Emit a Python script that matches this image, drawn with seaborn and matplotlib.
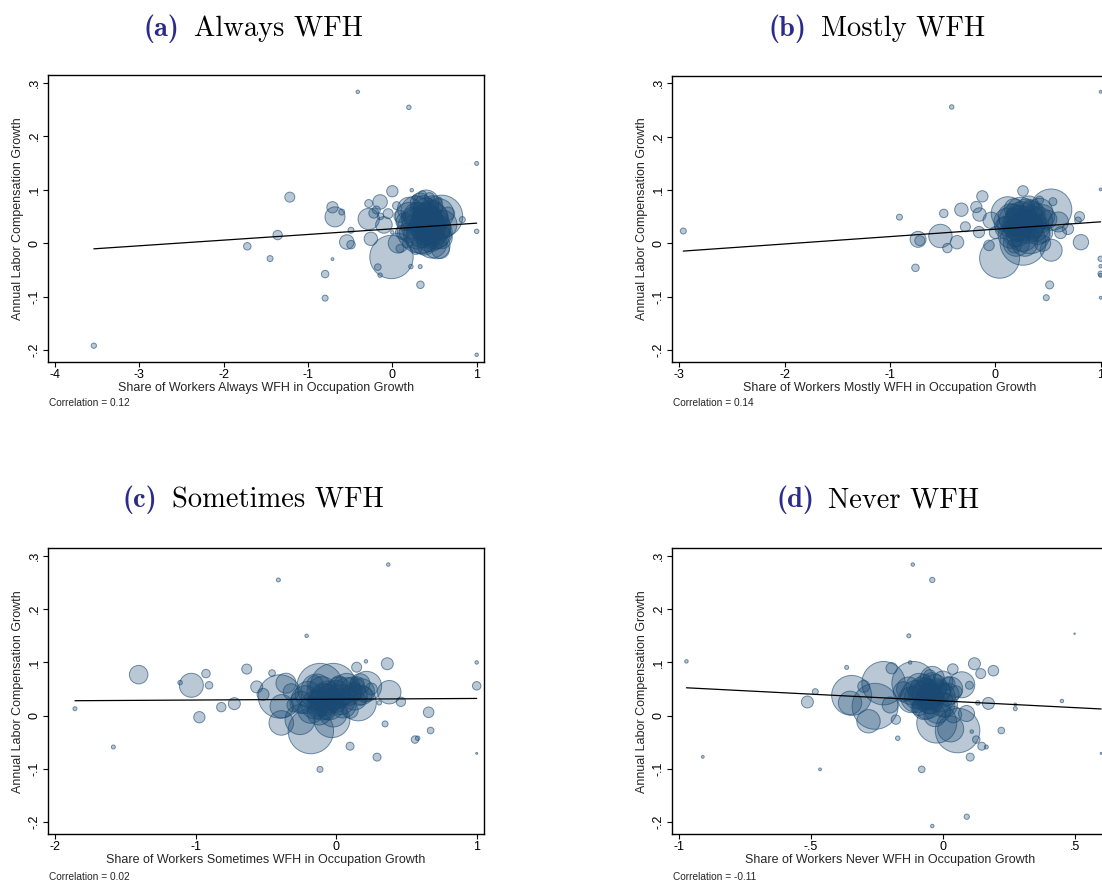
import numpy as np
import pandas as pd
import matplotlib
matplotlib.use("Agg")
import matplotlib.pyplot as plt
import seaborn as sns

sns.set_theme(style="ticks")
plt.rcParams["font.family"] = ["Liberation Sans", "DejaVu Sans"]
plt.rcParams["axes.unicode_minus"] = False

# ---------------- data ----------------
# (a) Always WFH
a_x = [-0.41, 0.196, 1.0, 1.0, 1.0, -3.54, -1.216, -1.36, -1.72, -1.45, -0.797, -0.797, -0.71,
       -0.71, -0.68, -0.60, -0.54, -0.49, -0.49, -0.172, -0.145, 0.333, 0.22, 0.0, 0.23, 0.83,
       -0.01, 0.583, 0.33, -0.28, -0.145, -0.255, -0.28, -0.22, -0.10, 0.07, 0.09, 0.20, 0.45,
       0.41, 0.49, 0.53, 0.57, 0.37, 0.27, 0.29, 0.66, 0.55, 0.09, 0.0, -0.14, -0.19,
       0.38, 0.42, 0.35, 0.45, 0.30, 0.48, 0.40, 0.15, 0.12, 0.50, 0.25, 0.60, 0.44, 0.36,
       -0.05, 0.05, 0.28, 0.18, 0.33,
       0.30, 0.35, 0.40, 0.45, 0.50, 0.55, 0.25, 0.42, 0.38, 0.48, 0.33, 0.58, 0.20, 0.45,
       0.20, 0.28, 0.35, 0.55, 0.60, 0.47, 0.40, 0.30, 0.52, 0.43]
a_y = [0.283, 0.254, 0.149, 0.022, -0.209, -0.192, 0.086, 0.015, -0.006, -0.029, -0.058, -0.103, -0.030,
       0.067, 0.049, 0.058, 0.002, -0.003, 0.024, -0.045, -0.060, -0.078, -0.044, 0.097, 0.099, 0.044,
       -0.026, 0.050, 0.024, 0.045, 0.077, 0.008, 0.074, 0.056, 0.034, 0.000, 0.050, 0.064, 0.030,
       0.047, 0.019, -0.005, -0.012, 0.070, 0.085, 0.064, 0.055, 0.080, -0.010, 0.020, 0.050, 0.062,
       0.035, 0.025, 0.045, 0.055, 0.030, 0.040, 0.015, 0.040, 0.020, 0.065, 0.045, 0.020, 0.085, 0.090,
       0.055, 0.070, -0.010, 0.000, -0.044,
       0.050, 0.020, 0.060, 0.010, 0.050, 0.030, 0.030, 0.040, 0.000, 0.070, 0.075, 0.010, 0.020, 0.045,
       0.050, 0.060, 0.010, 0.055, 0.035, 0.000, 0.075, 0.015, 0.020, 0.030]
a_w = [3, 5, 4, 5, 3, 7, 25, 22, 14, 9, 14, 9, 2,
       32, 100, 9, 53, 18, 9, 11, 5, 14, 5, 32, 3, 9,
       471, 450, 529, 114, 53, 45, 16, 25, 69, 100, 36, 137, 400,
       225, 279, 169, 81, 100, 7, 45, 45, 11, 16, 3, 11, 16,
       144, 196, 100, 81, 81, 121, 64, 81, 49, 64, 144, 49, 25, 16,
       25, 16, 36, 25, 4,
       196, 225, 169, 196, 169, 144, 144, 256, 144, 100, 100, 121, 100, 324,
       196, 225, 256, 225, 196, 225, 169, 196, 256, 289]

# (b) Mostly WFH
b_x = [-2.962, -0.414, 1.0, 1.0, 1.0, 1.0, 1.0, 1.0, 1.0, -0.910, -0.758, -0.733, -0.717,
       -0.521, -0.489, -0.455, -0.363, -0.322, -0.284, -0.180, -0.123, -0.155, -0.150, -0.060,
       0.041, 0.263, 0.516, 0.484, 0.813, 0.800, 0.785, 0.690, 0.530, 0.263, 0.330, 0.230,
       0.120, -0.038, 0.420, 0.530, 0.420, 0.547,
       0.25, 0.22, 0.28, 0.20, 0.30, 0.35, 0.15, 0.45, 0.50, 0.38, 0.60, 0.08, 0.00, 0.45,
       0.32, 0.62, 0.18,
       0.15, 0.20, 0.25, 0.30, 0.35, 0.28, 0.22, 0.40, 0.10, 0.32, 0.18, 0.45,
       0.12, 0.18, 0.24, 0.33, 0.38, 0.26, 0.20, 0.42, 0.30, 0.15]
b_y = [0.023, 0.2555, 0.284, 0.101, -0.029, -0.043, -0.057, -0.060, -0.102, 0.049, -0.046, 0.0074, 0.005,
       0.0137, 0.056, -0.009, 0.002, 0.063, 0.031, 0.068, 0.088, 0.021, 0.054, -0.004,
       -0.028, 0.098, -0.078, -0.102, 0.002, 0.050, 0.043, 0.027, 0.063, 0.002, 0.018, 0.043,
       0.056, 0.043, 0.043, -0.013, 0.081, 0.078,
       0.035, 0.050, 0.025, 0.020, 0.045, 0.030, 0.030, 0.020, 0.045, 0.060, 0.040, 0.035, 0.020, 0.000,
       0.070, 0.020, -0.005,
       0.050, 0.020, 0.050, 0.030, 0.055, 0.000, 0.035, 0.020, 0.030, 0.070, 0.065, 0.050,
       0.040, 0.045, 0.060, 0.040, 0.030, 0.015, 0.000, 0.060, 0.055, 0.015]
b_w = [9, 5, 2, 2, 7, 3, 7, 4, 2, 9, 14, 64, 25,
       137, 18, 22, 45, 45, 25, 32, 32, 32, 45, 28,
       400, 28, 16, 9, 59, 25, 11, 32, 428, 529, 400, 225,
       279, 69, 169, 121, 16, 16,
       144, 100, 121, 81, 81, 144, 64, 100, 81, 64, 100, 49, 36, 64,
       36, 36, 49,
       169, 196, 225, 256, 169, 169, 256, 144, 121, 100, 100, 144,
       196, 225, 196, 256, 196, 256, 169, 169, 225, 169]

# (c) Sometimes WFH
c_x = [-1.858, -1.585, -1.405, -1.11, -1.03, -0.973, -0.926, -0.904, -0.817, -0.724, -0.636, -0.411,
       -0.456, -0.565, -0.52, -0.40, -0.357, -0.387, -0.39, -0.257, -0.18, -0.21, -0.115, -0.115,
       -0.02, -0.03, 0.075, 0.158, 0.217, 0.146, 0.212, 0.364, 0.371, 0.378, 0.307, 0.348, 0.099,
       0.291, 0.461, 0.561, 0.58, 0.658, 0.672, 1.0, 1.0, 1.0,
       -0.10, -0.05, -0.12, 0.00, 0.05, -0.08, 0.12, 0.15, 0.20, -0.15, -0.30, -0.32, 0.25, 0.10,
       -0.06, 0.02, 0.17,
       -0.20, -0.15, -0.10, -0.05, 0.00, 0.05, -0.12, -0.08, 0.02, 0.12, 0.17, -0.25,
       -0.22, -0.14, -0.06, 0.03, 0.08, -0.18, -0.02, 0.13, -0.10, 0.18]
c_y = [0.013, -0.059, 0.077, 0.062, 0.057, -0.003, 0.079, 0.057, 0.016, 0.0225, 0.0875, 0.255,
       0.080, 0.054, 0.040, 0.036, 0.061, 0.0175, -0.0137, -0.0075, -0.029, 0.150, -0.101, 0.055,
       0.055, -0.0075, 0.055, 0.024, 0.055, 0.091, 0.102, 0.0975, 0.284, 0.044, 0.024, -0.0156, -0.0575,
       -0.078, 0.026, -0.045, -0.0425, 0.0063, -0.028, 0.100, 0.056, -0.071,
       0.030, 0.040, 0.015, 0.025, 0.035, 0.045, 0.045, 0.060, 0.040, 0.060, 0.020, 0.045, 0.050, 0.010,
       0.005, 0.060, 0.030,
       0.040, 0.020, 0.045, 0.020, 0.040, 0.020, 0.005, 0.030, 0.050, 0.050, 0.060, 0.025,
       0.030, 0.050, 0.035, 0.030, 0.045, 0.010, 0.005, 0.035, 0.020, 0.045]
c_w = [4, 4, 86, 5, 144, 32, 18, 14, 22, 36, 25, 4,
       11, 36, 36, 471, 100, 137, 151, 225, 515, 3, 9, 529,
       529, 324, 169, 324, 225, 25, 3, 36, 3, 137, 5, 9, 16,
       16, 22, 14, 5, 28, 11, 3, 18, 1,
       144, 100, 81, 100, 81, 64, 81, 49, 64, 64, 49, 64, 36, 64,
       49, 64, 36,
       169, 196, 225, 225, 196, 169, 144, 256, 144, 144, 100, 121,
       196, 225, 256, 225, 196, 169, 196, 169, 225, 169]

# (d) Never WFH
d_x = [-0.973, -0.911, -0.466, -0.365, -0.484, -0.514, -0.346, -0.352, -0.225, -0.257, -0.282, -0.194,
       -0.171, -0.178, -0.129, -0.114, -0.124, -0.04, -0.04, 0.091, -0.08, -0.111, -0.10, -0.023,
       0.056, 0.03, 0.04, 0.09, 0.072, 0.038, 0.12, 0.144, 0.192, 0.101, 0.173, 0.133, 0.222,
       0.11, 0.127, 0.148, 0.165, 0.104, 0.275, 0.275, 0.452, 0.50, 0.601, -0.048, -0.03,
       -0.04, -0.06, -0.02, 0.00, -0.08, -0.05, 0.01, -0.07, 0.02, -0.09, -0.15, -0.20, 0.05,
       -0.30, -0.05,
       -0.08, -0.05, -0.02, 0.00, -0.07, -0.04, 0.02, -0.10, -0.03, 0.00, -0.06,
       -0.09, -0.06, -0.01, 0.03, -0.12, -0.04, -0.02, 0.01, -0.07, -0.13]
d_y = [0.102, -0.0775, -0.101, 0.0906, 0.045, 0.0256, 0.038, 0.024, 0.061, 0.0175, -0.0106, 0.089,
       -0.0425, -0.0075, 0.150, 0.284, 0.100, 0.255, -0.2075, -0.190, -0.101, 0.061, 0.036, -0.014,
       -0.028, -0.025, 0.002, 0.004, 0.058, 0.0875, 0.0975, 0.079, 0.0844, 0.057, 0.023, 0.024, -0.028,
       -0.030, -0.045, -0.0575, -0.059, -0.078, 0.013, 0.021, 0.0275, 0.154, -0.071, 0.036, 0.055,
       0.040, 0.030, 0.050, 0.045, 0.050, 0.020, 0.030, 0.065, 0.060, 0.015, 0.045, 0.020, 0.045,
       0.055, 0.075,
       0.050, 0.030, 0.045, 0.020, 0.015, 0.060, 0.040, 0.035, 0.000, 0.065, 0.040,
       0.055, 0.020, 0.035, 0.050, 0.030, 0.070, 0.010, 0.020, 0.040, 0.050]
d_w = [3, 2, 2, 4, 9, 36, 400, 137, 471, 529, 137, 32,
       5, 22, 4, 3, 3, 7, 3, 7, 11, 471, 256, 400,
       497, 169, 69, 64, 169, 28, 36, 25, 28, 16, 36, 5, 11,
       3, 14, 16, 4, 16, 4, 2, 3, 0.5, 1, 169, 144,
       100, 81, 81, 64, 64, 81, 49, 49, 49, 64, 100, 64, 36,
       36, 36,
       144, 196, 169, 144, 144, 121, 121, 144, 121, 100, 225,
       169, 196, 225, 144, 169, 144, 169, 144, 256, 144]

panel_letters = ["a", "b", "c", "d"]
panel_names = ["Always WFH", "Mostly WFH", "Sometimes WFH", "Never WFH"]
x_labels = ["Share of Workers Always WFH in Occupation Growth",
            "Share of Workers Mostly WFH in Occupation Growth",
            "Share of Workers Sometimes WFH in Occupation Growth",
            "Share of Workers Never WFH in Occupation Growth"]
x_ticks = [[-4, -3, -2, -1, 0, 1], [-3, -2, -1, 0, 1], [-2, -1, 0, 1], [-1, -0.5, 0, 0.5]]
x_tick_labels = [["-4", "-3", "-2", "-1", "0", "1"], ["-3", "-2", "-1", "0", "1"],
                 ["-2", "-1", "0", "1"], ["-1", "-.5", "0", ".5"]]
x_limits = [(-4.087, 1.087), (-3.072, 1.07), (-2.052, 1.052), (-1.029, 0.627)]
y_ticks = [-0.2, -0.1, 0.0, 0.1, 0.2, 0.3]
y_tick_labels = ["-.2", "-.1", "0", ".1", ".2", ".3"]
y_label = "Annual Labor Compensation Growth"
correlations = [0.12, 0.14, 0.02, -0.11]
fit_intercepts = [0.0267, 0.0264, 0.0308, 0.0277]
fit_slopes = [0.01058, 0.01384, 0.0015, -0.0253]

xs = [a_x, b_x, c_x, d_x]
ys = [a_y, b_y, c_y, d_y]
ws = [a_w, b_w, c_w, d_w]

# ---------------- figure ----------------
W, H = 1102, 885
fig = plt.figure(figsize=(W / 100, H / 100), dpi=100)
fig.patch.set_facecolor("white")

navy = (0.10, 0.29, 0.45)
face = navy + (0.30,)
edge = navy + (0.60,)

ax_left_px = [47.7, 671.7, 47.7, 671.7]
ax_top_px = [75.0, 75.5, 548.3, 548.3]
ax_w_px = 436.3
ax_h_px = [287.0, 286.5, 285.7, 285.7]
title_cx = [253, 877, 253, 878]
title_base = [36.0, 36.0, 507.3, 507.3]
corr_pos = [(49, 403.3), (673.3, 403.3), (49, 877.3), (673.3, 877.3)]

wmax = 600.0
area_per_w = 2.0736

renderer = fig.canvas.get_renderer()

for i in range(4):
    l = ax_left_px[i] / W
    b = 1 - (ax_top_px[i] + ax_h_px[i]) / H
    ax = fig.add_axes([l, b, ax_w_px / W, ax_h_px[i] / H])
    df = pd.DataFrame({"x": xs[i], "y": ys[i], "w": ws[i]})
    sns.scatterplot(data=df, x="x", y="y", size="w", sizes=(0, area_per_w * wmax),
                    size_norm=(0, wmax), legend=False, ax=ax, color=navy, linewidth=0.7)
    coll = ax.collections[-1]
    coll.set_alpha(None)
    coll.set_facecolor(face)
    coll.set_edgecolor(edge)

    x0, x1 = min(xs[i]), max(xs[i])
    line_df = pd.DataFrame({"x": [x0, x1],
                            "y": [fit_intercepts[i] + fit_slopes[i] * x0,
                                  fit_intercepts[i] + fit_slopes[i] * x1]})
    sns.lineplot(data=line_df, x="x", y="y", color="black", linewidth=0.9, ax=ax)

    ax.set_xlim(*x_limits[i])
    ax.set_ylim(-0.2225, 0.3145)
    ax.set_xticks(x_ticks[i])
    ax.set_xticklabels(x_tick_labels[i])
    ax.set_yticks(y_ticks)
    ax.set_yticklabels(y_tick_labels)
    ax.tick_params(direction="out", length=3.6, width=0.8, colors="black",
                   labelsize=9, pad=1.5)
    ax.tick_params(axis="y", labelrotation=90)
    for lbl in ax.get_yticklabels():
        lbl.set_va("center")
    for s in ax.spines.values():
        s.set_visible(True)
        s.set_linewidth(1.0)
        s.set_color("black")
    ax.set_xlabel(x_labels[i], fontsize=9, labelpad=0.5)
    ax.set_ylabel(y_label, fontsize=9, labelpad=3)

    cx, cy = corr_pos[i]
    fig.text(cx / W, 1 - cy / H, f"Correlation = {correlations[i]:.2f}", fontsize=7.3,
             ha="left", va="center")

    # title
    yb = 1 - title_base[i] / H
    t1 = fig.text(0, yb, f"({panel_letters[i]})", fontfamily="cmb10", fontsize=20.5,
                  color="#2b2b8c", va="baseline", ha="left")
    t2 = fig.text(0, yb, panel_names[i], fontfamily="cmr10", fontsize=20.5,
                  color="black", va="baseline", ha="left")
    w1 = t1.get_window_extent(renderer).width
    w2 = t2.get_window_extent(renderer).width
    gap = 14
    total = w1 + gap + w2
    start = title_cx[i] - total / 2
    t1.set_x(start / W)
    t2.set_x((start + w1 + gap) / W)

fig.savefig("out.png", dpi=100, facecolor="white")
